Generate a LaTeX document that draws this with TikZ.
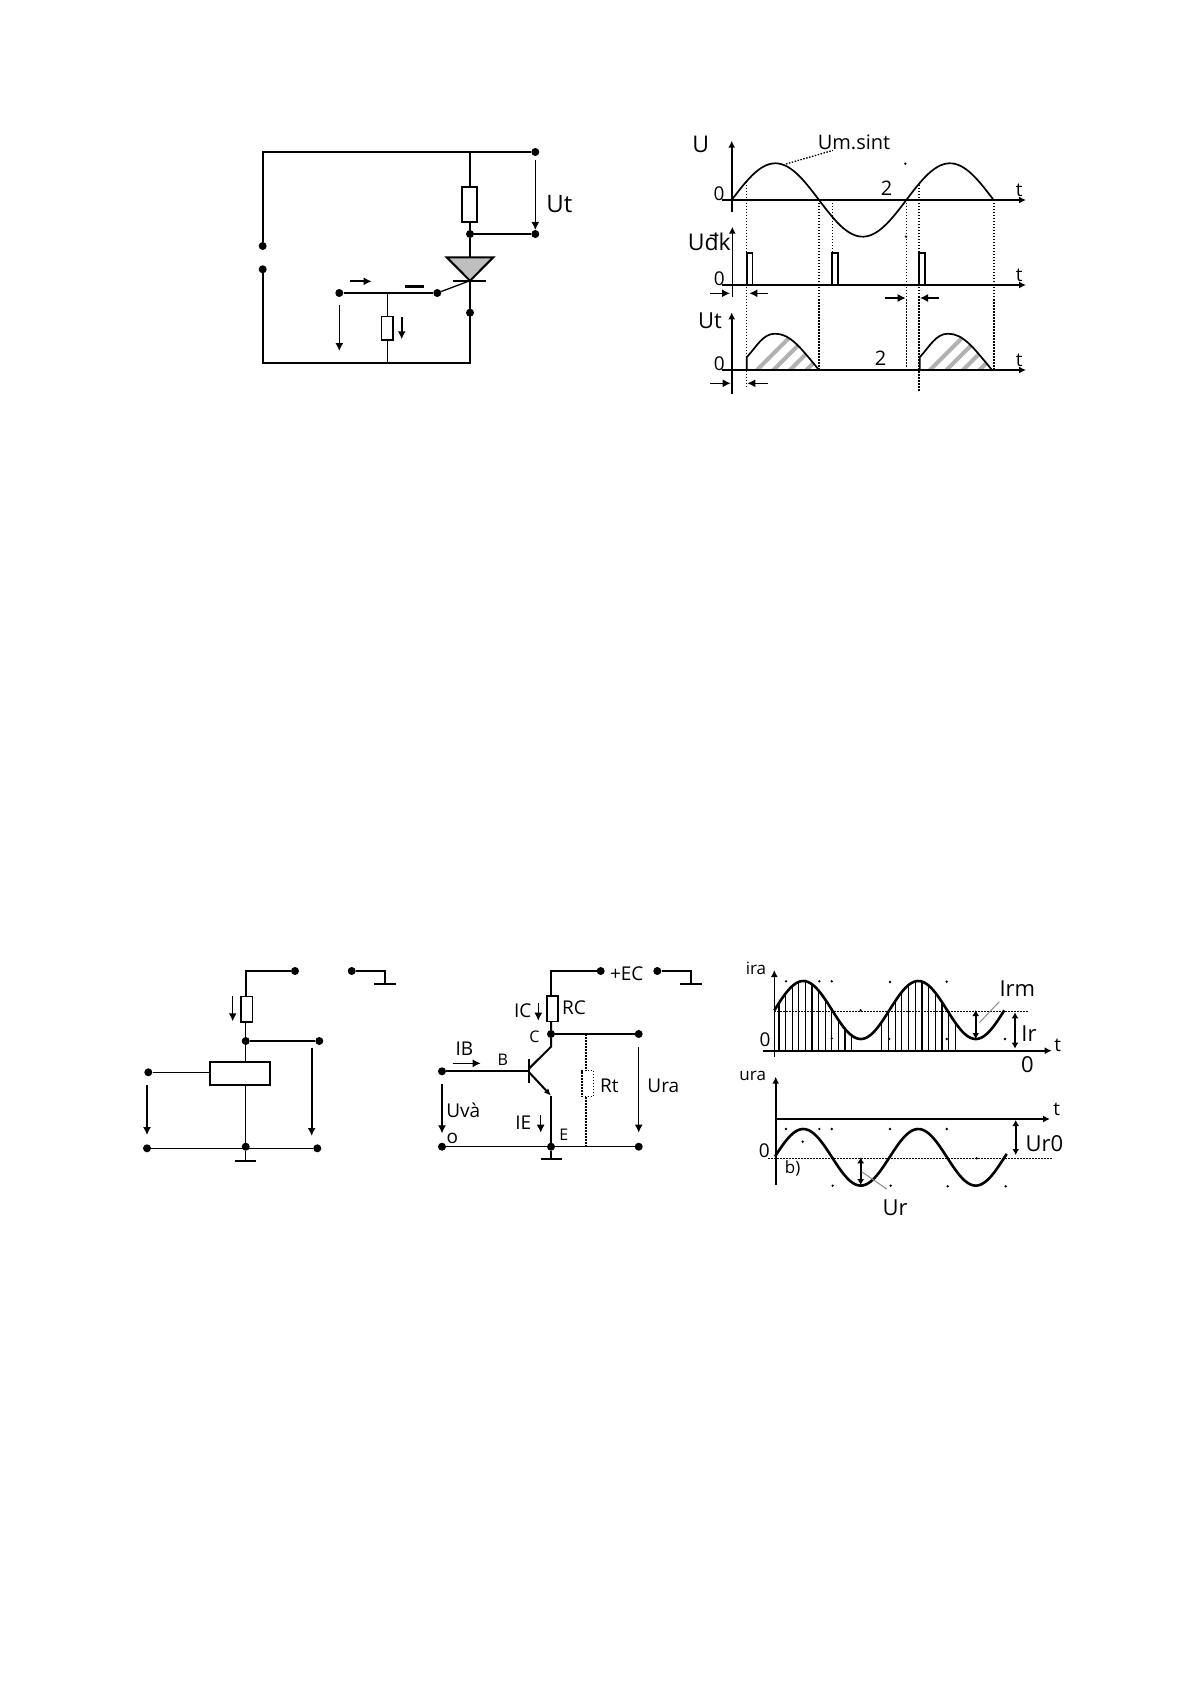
\documentclass[tikz,border=0pt]{standalone}
\usepackage{fontspec}
\setmainfont{Open Sans}
\usetikzlibrary{arrows.meta}
\tikzset{
  wire/.style={line width=2pt},
  thinwire/.style={line width=1.3pt},
  dot/.style={circle,fill=black,inner sep=0pt,minimum size=8pt},
  sdot/.style={circle,fill=black,inner sep=0pt,minimum size=2.6pt},
  res/.style={draw,line width=1.6pt,fill=white,inner sep=0pt},
  lbl/.style={inner sep=0pt,font=\fontsize{#1}{#1}\selectfont},
  lbl/.default=19,
  dots/.style={line width=1.3pt,dash pattern=on 1.5pt off 1.5pt},
  arr/.style={-{Latex[length=8pt,width=8pt]},line width=1.3pt},
  darr/.style={{Latex[length=6pt,width=7pt]}-{Latex[length=6pt,width=7pt]},line width=1.6pt},
  axis/.style={-{Latex[length=7pt,width=7pt]},line width=1.6pt},
  curve/.style={line width=1.7pt},
  bold/.style={line width=2.4pt}
}
\begin{document}
\begin{tikzpicture}[x=1pt,y=-1pt]
\useasboundingbox (0,0) rectangle (1191,1685);

\coordinate (tl) at (262.7,152);
\coordinate (bl) at (262.7,363.3);
\coordinate (tj) at (470,152);
\coordinate (br) at (470,363.3);
\node[dot] (s1) at (262.7,246) {};
\node[dot] (s2) at (262.7,269.3) {};
\node[dot] (ttop) at (535.3,152) {};
\node[dot] (tbot) at (535.3,234) {};
\node[dot] (jt) at (470,234) {};
\node[dot] (jk) at (470,312.7) {};
\node[dot] (gate) at (437.3,293) {};
\node[dot] (gin) at (339.3,293) {};
\node[res,minimum width=15pt,minimum height=35pt] (rl) at (469.2,204.8) {};
\node[res,minimum width=11.3pt,minimum height=23.3pt] (rg) at (387.3,328.3) {};
\coordinate (gj) at (387.3,293);
\coordinate (gb) at (387.3,363.3);
\coordinate (ta) at (446.7,257.3);
\coordinate (tb) at (493.3,257.3);
\coordinate (tc) at (470,280.7);
\coordinate (ba) at (453.3,280.7);
\coordinate (bb) at (485.7,280.7);
\draw[wire] (s1) -- (tl) -- (ttop);
\draw[wire] (s2) -- (bl) -- (br) -- (tc);
\draw[wire] (tj) -- (tj |- rl.north);
\draw[wire] (tj |- rl.south) -- (jt) -- (470,257.3);
\draw[wire] (jt) -- (tbot);
\draw[wire,fill=black!25] (ta) -- (tb) -- (tc) -- cycle;
\draw[wire] (ba) -- (bb);
\draw[wire] (gin) -- (gate);
\draw[thinwire] (gate) -- (tc);
\draw[thinwire] (gj) -- (rg) -- (gb);
\coordinate (ua) at (535.3,160);
\coordinate (ub) at (535.3,230);
\coordinate (ia) at (350,281.3);
\coordinate (ib) at (371.7,281.3);
\coordinate (da) at (405,286.7);
\coordinate (db) at (424,286.7);
\coordinate (ra) at (401.7,317.3);
\coordinate (rb) at (401.7,339.3);
\coordinate (va) at (339.3,305);
\coordinate (vb) at (339.3,351);
\draw[arr] (ua) -- (ub);
\draw[arr,line width=1.6pt] (ia) -- (ib);
\draw[bold] (da) -- (db);
\draw[arr,line width=1.6pt] (ra) -- (rb);
\draw[arr] (va) -- (vb);
\node[lbl=24] (ut) at (559.3,204) {Ut};

\draw[axis] (731.7,211.7) -- (731.7,140.7);
\draw[axis] (721.7,200) -- (1026,200);
\draw[curve] plot[domain=731.7:993,samples=90] (\x,{200-36.7*sin(2.0619*(\x-731.7))});
\node[lbl=23] (uu) at (700.7,144) {U};
\node[lbl=20] (um) at (854,142.7) {Um.sint};
\draw[dots] (786,164) -- (um.200);
\node[lbl] (z1) at (719,193.3) {0};
\node[lbl=20] (tw1) at (886.7,188.3) {2};
\node[lbl] (t1) at (1019.3,190.7) {t};
\node[sdot] (p1) at (905.3,163.7) {};
\node[sdot] (p2) at (906,236.7) {};

\draw[dots] (746.7,181.7) -- (746.7,386.7);
\draw[dots] (819,200) -- (819,370);
\draw[dots] (832.7,200) -- (832.7,253.3);
\draw[dots] (906.7,200) -- (906.7,368);
\draw[dots] (919,185) -- (919,391.7);
\draw[dots] (994,200) -- (994,370);

\draw[axis] (732.3,296.7) -- (732.3,226.7);
\draw[axis] (721.7,285) -- (1026,285);
\foreach \px in {746.7,832.3,919}
  \draw[curve] (\px,285) -- (\px,253.3) -- ++(5.8,0) -- ++(0,31.7);
\node[lbl=23] (ud) at (709.3,241.7) {Uđk};
\node[lbl] (z2) at (719.3,279) {0};
\node[lbl] (t2) at (1019.3,275) {t};
\draw[arr] (710,293.3) -- (730,293.3);
\draw[arr] (767.7,293.3) -- (749.3,293.3);
\draw[arr] (885,298) -- (905.7,298);
\draw[arr] (939.3,298) -- (920,298);

\foreach \dx in {0,173} {
  \begin{scope}[shift={(\dx,0)}]
  \begin{scope}
  \clip (746.7,370) -- (746.7,357.3) .. controls (757,346) and (763,333.7) .. (775,333.7) .. controls (790,333.7) and (800,347) .. (819,370) -- cycle;
  \foreach \sx in {0,1,2,3,4,5}
    \draw[line width=4pt,black!30] (755+16.5*\sx,372) -- ++(45,-45);
  \end{scope}
  \draw[curve] (746.7,370) -- (746.7,357.3) .. controls (757,346) and (763,333.7) .. (775,333.7) .. controls (790,333.7) and (800,347) .. (819,370);
  \end{scope}
}
\draw[axis] (731.7,394) -- (731.7,312.3);
\draw[axis] (721.7,370) -- (1026,370);
\node[lbl=22] (ut2) at (710,321) {Ut};
\node[lbl] (z3) at (719.3,364) {0};
\node[lbl=20] (tw2) at (880.7,358.7) {2};
\node[lbl] (t3) at (1019.3,360.7) {t};
\draw[arr] (710,383.3) -- (730.7,383.3);
\draw[arr] (768.3,383.3) -- (747.3,383.3);

\coordinate (pc) at (245.7,971);
\coordinate (gc) at (385,971);
\coordinate (gd) at (385,984);
\coordinate (ga) at (374,984);
\coordinate (gf) at (396,984);
\node[dot] (ptop) at (295,971) {};
\node[dot] (gnd) at (351.7,971) {};
\node[dot] (pout) at (319.3,1041) {};
\node[dot] (pj) at (245.7,1041) {};
\node[dot] (pin) at (148.3,1072.3) {};
\node[dot] (pbl) at (147,1148.3) {};
\node[dot] (pbj) at (245.7,1146.7) {};
\node[dot] (pbr) at (317.3,1148.3) {};
\node[res,minimum width=11.6pt,minimum height=25.7pt] (rc1) at (246.5,1009.2) {};
\node[res,line width=1.8pt,minimum width=60pt,minimum height=23.6pt] (box) at (240.3,1073.5) {};
\coordinate (pg) at (245.7,1160.7);
\coordinate (pga) at (235,1160.7);
\coordinate (pgb) at (256,1160.7);
\draw[wire] (ptop) -- (pc) -- (pc |- rc1.north);
\draw[thinwire] (pc |- rc1.south) -- (pj);
\draw[wire] (pj) -- (pout);
\draw[thinwire] (pj) -- (pj |- box.north);
\draw[thinwire] (pj |- box.south) -- (pbj);
\draw[thinwire] (pin) -- (pin -| box.west);
\draw[thinwire] (pbl) -- (pbr);
\draw[thinwire] (pbj) -- (pg);
\draw[wire] (pga) -- (pgb);
\draw[wire] (gnd) -- (gc) -- (gd);
\draw[wire] (ga) -- (gf);
\coordinate (a1) at (232.7,996);
\coordinate (a2) at (232.7,1021.3);
\coordinate (a3) at (147,1085);
\coordinate (a4) at (147,1135);
\coordinate (a5) at (311.7,1047.7);
\coordinate (a6) at (311.7,1136);
\draw[arr] (a1) -- (a2);
\draw[arr] (a3) -- (a4);
\draw[arr,line width=1.8pt] (a5) -- (a6);

\coordinate (qc) at (551,971);
\coordinate (qg) at (691,971);
\coordinate (qd) at (691,983.5);
\coordinate (qa) at (680.3,983.5);
\coordinate (qf) at (701.7,983.5);
\node[dot] (qtop) at (600.7,971) {};
\node[dot] (qgnd) at (657.3,971) {};
\node[dot] (qj) at (551,1034) {};
\node[dot] (qout) at (638.7,1034) {};
\node[dot] (qin) at (442,1071.3) {};
\node[dot] (qbl) at (442,1146.7) {};
\node[dot] (qbj) at (551,1146.7) {};
\node[dot] (qbr) at (638.7,1146.7) {};
\node[res,minimum width=11pt,minimum height=25.3pt] (rc) at (552.2,1008.7) {};
\node[draw,dots,fill=white,inner sep=0pt,minimum width=11.7pt,minimum height=26pt] (rt) at (587.8,1083.7) {};
\coordinate (cb) at (551,1046.7);
\coordinate (bq) at (529.3,1068.3);
\coordinate (ba1) at (529.3,1059.3);
\coordinate (ba2) at (529.3,1083.3);
\coordinate (bi) at (529.3,1071.3);
\coordinate (ee) at (551,1095.7);
\coordinate (ej) at (529.3,1072.5);
\coordinate (qgn) at (551,1159);
\coordinate (qg1) at (540.7,1159);
\coordinate (qg2) at (561.7,1159);
\draw[wire] (qtop) -- (qc) -- (qc |- rc.north);
\draw[wire] (qc |- rc.south) -- (qj) -- (cb) -- (bq);
\draw[wire] (qj) -- (qout);
\draw[wire] (qin) -- (bi);
\draw[wire] (ba1) -- (ba2);
\draw[-{Latex[length=7pt,width=6pt]},wire] (ej) -- (ee);
\draw[wire] (ee) -- (qbj);
\draw[thinwire] (qbl) -- (qbr);
\draw[wire] (qbj) -- (qgn);
\draw[wire] (qg1) -- (qg2);
\draw[wire] (qgnd) -- (qg) -- (qd);
\draw[wire] (qa) -- (qf);
\coordinate (rt1) at (586,1034);
\coordinate (rt2) at (586,1146.7);
\draw[dots] (rt1) -- (rt1 |- rt.north);
\draw[dots] (rt2 |- rt.south) -- (rt2);
\coordinate (c1) at (538.3,1003.3);
\coordinate (c2) at (538.3,1020.7);
\coordinate (c3) at (452.7,1063.3);
\coordinate (c4) at (480.7,1063.3);
\coordinate (c5) at (442,1084);
\coordinate (c6) at (442,1133.3);
\coordinate (c7) at (540.7,1115);
\coordinate (c8) at (540.7,1132.7);
\coordinate (c9) at (638.7,1046.7);
\coordinate (c10) at (638.7,1132.7);
\draw[arr] (c1) -- (c2);
\draw[arr] (c3) -- (c4);
\draw[arr] (c5) -- (c6);
\draw[arr] (c7) -- (c8);
\draw[arr] (c9) -- (c10);
\node[lbl] (lec) at (626.7,974) {+EC};
\node[lbl] (lic) at (522.7,1011) {IC};
\node[lbl] (lrc) at (574,1007.3) {RC};
\node[lbl=16] (lc) at (534.3,1036.7) {C};
\node[lbl] (lib) at (464.3,1048.7) {IB};
\node[lbl=16] (lb) at (502.7,1059.3) {B};
\node[lbl] (luv) at (463.3,1110) {Uvà};
\node[lbl] (lo) at (452.3,1138.3) {o};
\node[lbl] (lie) at (523.3,1122.7) {IE};
\node[lbl=16] (le) at (563.7,1134.3) {E};
\node[lbl] (lrt) at (609.3,1086) {Rt};
\node[lbl] (lur) at (663.3,1086) {Ura};

\foreach \bx in {779,785.6,...,852.7,881.7,888.4,...,961.7}
  \draw[line width=1.2pt] (\bx,1050.7) -- (\bx,{1010-29*sin(3.1304*(\bx-774.5))});
\draw[axis] (774.3,1056.7) -- (774.3,970);
\draw[axis] (763.3,1050.7) -- (1051.7,1050.7);
\draw[line width=2.6pt] plot[domain=774.3:1004.3,samples=110] (\x,{1010-29*sin(3.1304*(\x-774.5))});
\draw[dots] (774.3,1011.3) -- (1028.3,1011.3);
\foreach \sx/\sy in {786/981.3,819.3/981.3,831.7/981.3,890/982,946.7/981.7,860.7/1010.3,831.7/1038.3,889.3/1039,946.7/1039,1005/1039}
  \node[sdot] at (\sx,\sy) {};
\node[lbl=17] (lira) at (756,968.3) {ira};
\node[lbl=19] (z4) at (765,1039.3) {0};
\node[lbl] (t4) at (1057.7,1045) {t};
\node[lbl=22] (z5) at (1027.3,1065) {0};
\node[lbl=22] (lirm) at (1017.3,988.3) {Irm};
\draw[line width=1pt,black!45] (999.3,1001.7) -- (979.3,1022.7);
\draw[darr] (975.7,1010) -- (975.7,1039);
\draw[darr] (1015,1012.3) -- (1015,1048.7);
\node[lbl=22] (lir) at (1029,1033.3) {Ir};

\draw[axis] (775.7,1185) -- (775.7,1076.7);
\draw[axis] (775.7,1119) -- (1050,1119);
\draw[line width=2.6pt] plot[domain=775:1006.7,samples=110] (\x,{1157.3-28.3*sin(3.1304*(\x-774.5))});
\draw[dots] (768.3,1158.3) -- (1053.3,1158.3);
\foreach \sx/\sy in {786/1129,819.3/1129,831.7/1129,890/1129,946.7/1129,802.7/1141.7,976.7/1158.3,832.7/1185.7,890.7/1185.7,947.7/1186.3,1005.7/1186.3}
  \node[sdot] at (\sx,\sy) {};
\node[lbl=17] (lura) at (752.7,1076) {ura};
\node[lbl] (t5) at (1056.7,1109.3) {t};
\node[lbl=19] (z6) at (764.3,1150.7) {0};
\node[lbl=17] (lb2) at (792.7,1168.3) {b)};
\draw[darr] (1015.7,1120) -- (1015.7,1155);
\node[lbl=22] (lur0) at (1044.3,1144) {Ur0};
\draw[darr] (860.7,1157.3) -- (860.7,1185);
\draw[line width=1pt,black!45] (861.7,1171.7) -- (886.7,1189);
\node[lbl=22] (lur2) at (895,1207.3) {Ur};
\end{tikzpicture}
\end{document}
